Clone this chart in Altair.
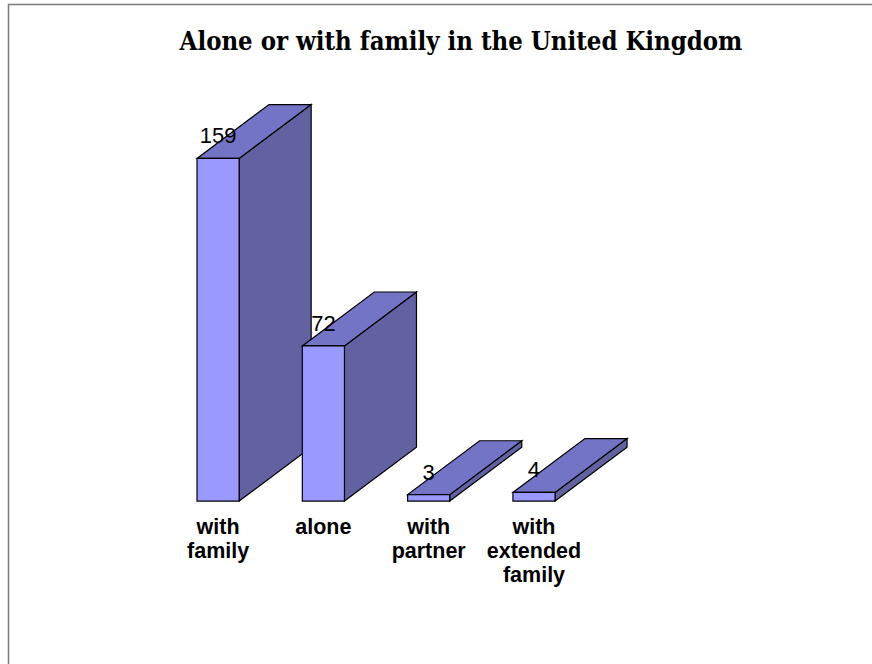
import altair as alt
import pandas as pd

# ---- data ----
categories = ["with family", "alone", "with partner", "with extended family"]
values = [159, 72, 3, 4]
label_lines = ["with\nfamily", "alone", "with\npartner", "with\nextended\nfamily"]
title_text = "Alone or with family in the United Kingdom"

# ---- style / layout constants ----
FRONT = "#9999FF"
TOP = "#7474C6"
SIDE = "#6262A2"
W, H = 872, 664
BAR_W = 0.40      # bar width in category steps
DX = 0.684        # 3D depth, horizontal (category steps)
DY = 25.0         # 3D depth, vertical (value units)
X_DOMAIN = [-1.871, 6.410]
Y_DOMAIN = [-75.6, 232.5]

base = pd.DataFrame({
    "cat": categories,
    "value": values,
    "idx": list(range(len(categories))),
    "label": label_lines,
})
base["x0"] = base["idx"]
base["x1"] = base["idx"] + BAR_W
base["xc"] = base["idx"] + BAR_W / 2
base["zero"] = 0

side_rows = []
top_rows = []
for _, r in base.iterrows():
    side_rows.append({"cat": r["cat"], "x": r["x1"], "lo": 0, "hi": r["value"]})
    side_rows.append({"cat": r["cat"], "x": r["x1"] + DX, "lo": DY, "hi": r["value"] + DY})
    top_rows.append({"cat": r["cat"], "y": r["value"], "xl": r["x0"], "xr": r["x1"]})
    top_rows.append({"cat": r["cat"], "y": r["value"] + DY, "xl": r["x0"] + DX, "xr": r["x1"] + DX})
side_df = pd.DataFrame(side_rows)
top_df = pd.DataFrame(top_rows)

xs = alt.Scale(domain=X_DOMAIN, nice=False, zero=False)
ys = alt.Scale(domain=Y_DOMAIN, nice=False, zero=False)

SW = 1.2

side = alt.Chart(side_df).mark_area(
    color=SIDE, stroke="black", strokeWidth=SW, opacity=1, interpolate="linear"
).encode(
    x=alt.X("x:Q", scale=xs, axis=None),
    y=alt.Y("hi:Q", scale=ys, axis=None, stack=None),
    y2="lo:Q",
    detail="cat:N",
)

top = alt.Chart(top_df).mark_area(
    color=TOP, stroke="black", strokeWidth=SW, opacity=1, orient="horizontal"
).encode(
    y=alt.Y("y:Q", scale=ys, axis=None),
    x=alt.X("xr:Q", scale=xs, axis=None, stack=None),
    x2="xl:Q",
    detail="cat:N",
)

front = alt.Chart(base).mark_rect(
    color=FRONT, stroke="black", strokeWidth=SW
).encode(
    x=alt.X("x0:Q", scale=xs, axis=None),
    x2="x1:Q",
    y=alt.Y("value:Q", scale=ys, axis=None),
    y2="zero:Q",
)

value_labels = alt.Chart(base).mark_text(
    font="Liberation Sans", fontSize=22, color="black",
    align="center", baseline="alphabetic", dy=-15
).encode(
    x=alt.X("xc:Q", scale=xs, axis=None),
    y=alt.Y("value:Q", scale=ys, axis=None),
    text="value:Q",
)

cat_labels = alt.Chart(base).mark_text(
    font="Liberation Sans", fontSize=21.5, fontWeight="bold", color="black",
    align="center", baseline="alphabetic", dy=33, lineBreak="\n", lineHeight=24
).encode(
    x=alt.X("xc:Q", scale=xs, axis=None),
    y=alt.Y("zero:Q", scale=ys, axis=None),
    text="label:N",
)

title = alt.Chart(pd.DataFrame({"t": [title_text]})).mark_text(
    font="DejaVu Serif Condensed", fontSize=25.5, fontWeight="bold", color="black",
    align="center", baseline="alphabetic"
).encode(
    x=alt.value(461), y=alt.value(50), text="t:N"
)

frame_top = alt.Chart(pd.DataFrame({"k": [0]})).mark_rule(
    color="#7a7a7a", strokeWidth=1.5
).encode(x=alt.value(8), x2=alt.value(W), y=alt.value(4.5))
frame_left = alt.Chart(pd.DataFrame({"k": [0]})).mark_rule(
    color="#7a7a7a", strokeWidth=1.5
).encode(x=alt.value(8.5), y=alt.value(4), y2=alt.value(H))

chart = alt.layer(
    frame_top, frame_left, side, top, front, value_labels, cat_labels, title
).properties(
    width=W, height=H, padding=0, autosize=alt.AutoSizeParams(type="none"),
    background="white",
).configure_view(stroke=None)

chart.save("out.html", embed_options={"renderer": "svg", "actions": False})
